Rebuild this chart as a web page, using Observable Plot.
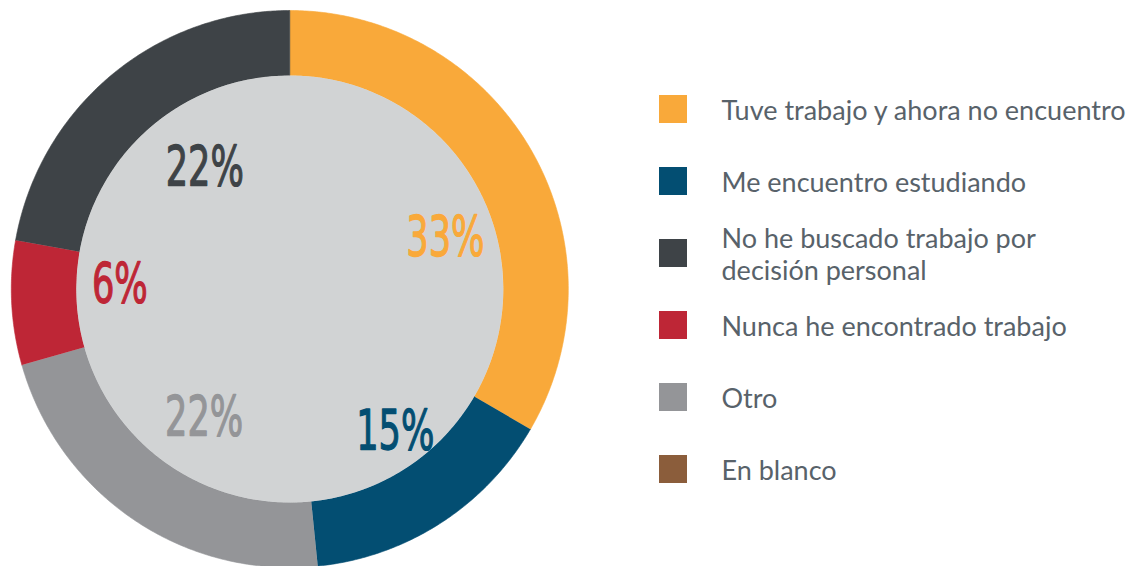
<!DOCTYPE html>
<html><head><meta charset="utf-8">
<script src="https://cdn.jsdelivr.net/npm/d3@7"></script>
<script src="https://cdn.jsdelivr.net/npm/@observablehq/plot@0.6"></script>
<style>html,body{margin:0;padding:0;background:#fff;} svg{display:block}</style>
</head><body><div id="chart"></div>
<script>
// ---- data ----
const categories = [
  "Tuve trabajo y ahora no encuentro",
  "Me encuentro estudiando",
  "No he buscado trabajo por\ndecisión personal",
  "Nunca he encontrado trabajo",
  "Otro",
  "En blanco"
];
const values = [33.4, 15.0, 22.2, 7.2, 22.2, 0];
const pctLabels = ["33%", "15%", "22%", "6%", "22%", ""];
const colors = ["#f9a93a", "#034e72", "#3e4347", "#be2636", "#949598", "#8b5d3b"];
const sliceOrder = [0, 1, 4, 3, 2, 5];

// ---- layout ----
const W = 1141, H = 566;
const cx = 289.3, cy = 288.5, rOuter = 278.5, rInner = 213.5;
const labelNudge = [ // [angle offset deg, radius] per category
  [11.4, 164], [-3.8, 177], [4.9, 148], [4.5, 170], [-0.4, 154], [0, 160]
];
const condense = 0.64;
const legendX0 = 659, legendSize = 28, legendTextX = 721, legendY0 = 109, legendStep = 72;

const total = d3.sum(values);
let acc = 0;
const slices = sliceOrder.map(i => {
  const a0 = acc / total * 2 * Math.PI;
  acc += values[i];
  const a1 = acc / total * 2 * Math.PI;
  return {i, a0, a1};
});
const pt = (key, r, a) => ({key, x: cx + r * Math.sin(a), y: cy - r * Math.cos(a)});
const ringPts = [];
for (const s of slices) {
  if (s.a1 <= s.a0) continue;
  const key = categories[s.i];
  const n = Math.max(2, Math.ceil((s.a1 - s.a0) / (Math.PI / 360)));
  for (let k = 0; k <= n; k++) ringPts.push(pt(key, rOuter, s.a0 + (s.a1 - s.a0) * k / n));
  for (let k = n; k >= 0; k--) ringPts.push(pt(key, rInner, s.a0 + (s.a1 - s.a0) * k / n));
}
const labelData = slices.filter(s => s.a1 > s.a0).map(s => {
  const [da, r] = labelNudge[s.i];
  const a = (s.a0 + s.a1) / 2 + da * Math.PI / 180;
  return {...pt(categories[s.i], r, a), text: pctLabels[s.i]};
});
const legendData = categories.map((key, j) => ({key, cy: legendY0 + j * legendStep}));

const chart = Plot.plot({
  width: W, height: H,
  margin: 0,
  x: {domain: [0, W], range: [0, W], axis: null},
  y: {domain: [0, H], range: [0, H], axis: null},
  color: {domain: categories, range: colors},
  style: {background: "#fff"},
  marks: [
    Plot.line(ringPts, {x: "x", y: "y", z: "key", fill: "key", stroke: "key", strokeWidth: 0.6}),
    Plot.dot([{x: cx, y: cy}], {x: "x", y: "y", r: rInner, fill: "#d1d3d4", stroke: "none"}),
    Plot.text(labelData, {x: "x", y: "y", text: "text", fill: "key", stroke: "key", strokeWidth: 1.3,
      fontSize: 55, fontFamily: "'DejaVu Sans', sans-serif", className: "pct"}),
    Plot.rect(legendData, {x1: () => legendX0, x2: () => legendX0 + legendSize,
      y1: d => d.cy - legendSize / 2, y2: d => d.cy + legendSize / 2, fill: "key"}),
    Plot.text(legendData, {x: () => legendTextX, y: "cy", text: "key", textAnchor: "start",
      fill: "#58626a", fontSize: 27, lineHeight: 1.18, fontFamily: "Lato, sans-serif"})
  ]
});
document.getElementById("chart").appendChild(chart);
chart.querySelectorAll("g.pct text").forEach(t => {
  const w = t.getComputedTextLength();
  t.setAttribute("textLength", (w * condense).toFixed(1));
  t.setAttribute("lengthAdjust", "spacingAndGlyphs");
});
</script>
</body></html>
